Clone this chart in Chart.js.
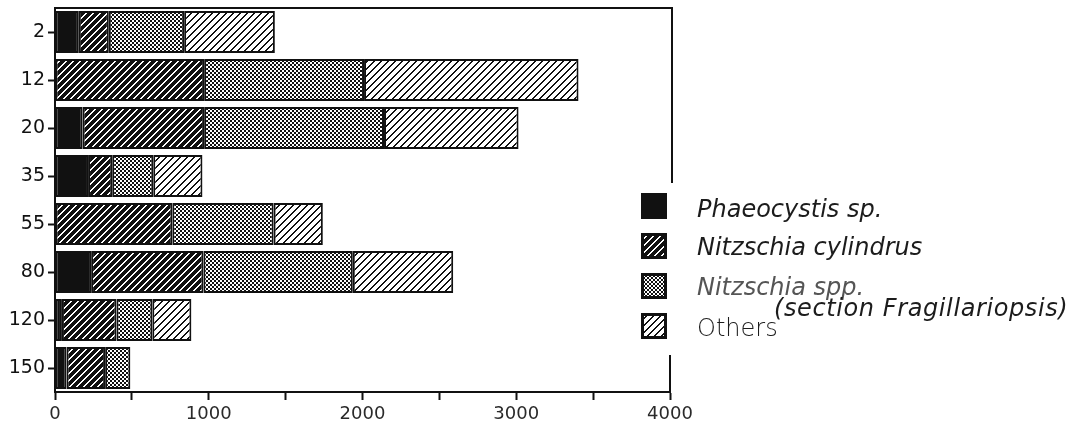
<!DOCTYPE html>
<html>
<head>
<meta charset="utf-8">
<script src="https://cdn.jsdelivr.net/npm/chart.js@4/dist/chart.umd.min.js"></script>
<style>
    body { margin: 0; background: #fff; }
    #wrap { position: relative; width: 1086px; height: 425px; }
    #chart { position: absolute; left: 0; top: 0; }
    .sw { position: absolute; left: 641px; width: 26px; height: 26px; }
    .lg { position: absolute; font-family: 'DejaVu Sans', sans-serif; font-size: 24px; line-height: 24px; color: #1c1c1c; white-space: nowrap; font-weight: 200; }
    .it { font-style: italic; }
</style>
</head>
<body>
<div id="wrap">
    <canvas id="chart" width="1086" height="425"></canvas>
    <canvas class="sw" id="sw0" width="26" height="26" style="top:193px"></canvas>
    <canvas class="sw" id="sw1" width="26" height="26" style="top:233px"></canvas>
    <canvas class="sw" id="sw2" width="26" height="26" style="top:273px"></canvas>
    <canvas class="sw" id="sw3" width="26" height="26" style="top:313px"></canvas>
    <div class="lg it" style="left:697px; top:197px">Phaeocystis sp.</div>
    <div class="lg it" style="left:697px; top:235px">Nitzschia cylindrus</div>
    <div class="lg it" style="left:697px; top:275px; color:#555">Nitzschia spp.</div>
    <div class="lg it" style="left:774px; top:296px; letter-spacing:0.6px">(section Fragillariopsis)</div>
    <div class="lg" style="left:697px; top:316px">Others</div>
</div>
<script>
// depth (m) categories and cell counts per group
const depths = ['2', '12', '20', '35', '55', '80', '120', '150'];
const phaeocystis = [155, 0, 180, 215, 0, 235, 45, 75];
const cylindrus = [195, 970, 790, 157, 763, 730, 355, 251];
const nitzschiaSpp = [490, 1040, 1170, 267, 659, 972, 233, 164];
const others = [590, 1395, 875, 320, 320, 653, 254, 0];
const xTicks = [0, 1000, 2000, 3000, 4000];

// pixel tiles for the hatch fills
function makeTile(kind) {
    const c = document.createElement('canvas');
    const ctx = c.getContext('2d');
    const n = kind === 'dots' ? 4 : 7;
    c.width = n; c.height = n;
    for (let y = 0; y < n; y++) {
        for (let x = 0; x < n; x++) {
            let white;
            if (kind === 'dots') white = (Math.floor(x / 2) + Math.floor(y / 2)) % 2 === 0;
            else if (kind === 'dark') white = (x + y) % n < 2;
            else white = (x + y) % n >= 2;
            ctx.fillStyle = white ? '#fff' : '#111';
            ctx.fillRect(x, y, 1, 1);
        }
    }
    return c;
}

const ctx = document.getElementById('chart').getContext('2d');
const fills = [
    '#111',
    ctx.createPattern(makeTile('dark'), 'repeat'),
    ctx.createPattern(makeTile('dots'), 'repeat'),
    ctx.createPattern(makeTile('light'), 'repeat'),
];

// legend swatches
fills.forEach((f, i) => {
    const sc = document.getElementById('sw' + i).getContext('2d');
    sc.fillStyle = f;
    sc.fillRect(0, 0, 26, 26);
    sc.strokeStyle = '#111';
    sc.lineWidth = 3;
    sc.strokeRect(1.5, 1.5, 23, 23);
});

// top and right frame, right side broken where the legend sits
const frame = {
    id: 'frame',
    afterDraw(chart) {
        const a = chart.chartArea;
        const c = chart.ctx;
        c.save();
        c.strokeStyle = '#111';
        c.lineWidth = 2;
        c.beginPath();
        c.moveTo(a.left, a.top);
        c.lineTo(a.right + 2, a.top);
        c.lineTo(a.right + 2, 183);
        c.moveTo(a.right, 355);
        c.lineTo(a.right, a.bottom);
        c.stroke();
        c.restore();
    }
};

const groups = [phaeocystis, cylindrus, nitzschiaSpp, others];
const names = ['Phaeocystis sp.', 'Nitzschia cylindrus', 'Nitzschia spp.', 'Others'];

new Chart(ctx, {
    type: 'bar',
    data: {
        labels: depths,
        datasets: groups.map((g, i) => ({
            label: names[i],
            data: g,
            backgroundColor: fills[i],
            borderColor: '#111',
            borderWidth: 2,
            borderSkipped: false,
            barPercentage: 0.88,
            categoryPercentage: 1,
        })),
    },
    options: {
        indexAxis: 'y',
        responsive: false,
        animation: false,
        layout: { padding: { left: 0, right: 416, top: 8, bottom: 0 } },
        plugins: {
            legend: { display: false },
            tooltip: { enabled: false },
        },
        scales: {
            x: {
                stacked: true,
                min: 0,
                max: 4000,
                afterFit: s => { s.height = 33; },
                ticks: {
                    stepSize: 500,
                    autoSkip: false,
                    maxRotation: 0,
                    padding: 4,
                    color: '#2a2a2a',
                    font: { family: 'DejaVu Sans', size: 18 },
                    callback: v => xTicks.includes(v) ? String(v) : '',
                },
                grid: { drawOnChartArea: false, tickLength: 8, tickColor: '#111', tickWidth: 2 },
                border: { color: '#111', width: 2 },
            },
            y: {
                stacked: true,
                afterFit: s => { s.width = 55; s.paddingTop = 0; s.paddingBottom = 0; },
                ticks: {
                    padding: 3,
                    color: '#111',
                    font: { family: 'DejaVu Sans', size: 19 },
                },
                grid: { drawOnChartArea: false, offset: false, tickLength: 7, tickColor: '#111', tickWidth: 2 },
                border: { color: '#111', width: 2 },
            },
        },
    },
    plugins: [frame],
});
</script>
</body>
</html>
